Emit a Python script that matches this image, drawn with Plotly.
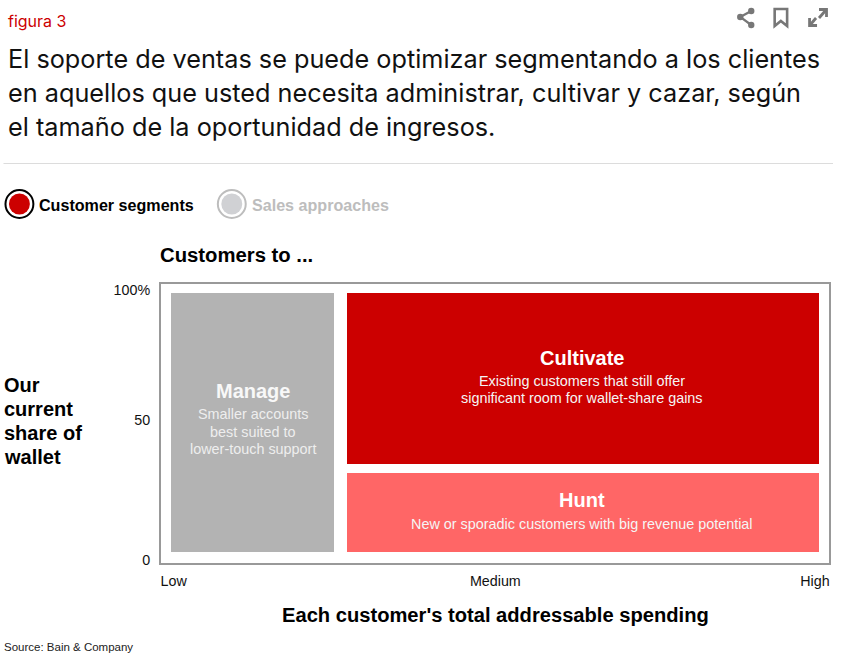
import plotly.graph_objects as go

# ---- data ----
segments = ["Manage", "Cultivate", "Hunt"]
x_start = [1.5, 27.8, 27.8]
x_end = [25.95, 98.5, 98.5]
y_start = [3.9, 35.5, 3.9]
y_end = [96.8, 96.8, 32.3]
segment_colors = ["#b3b3b3", "#cc0000", "#ff6666"]
y_tick_text = ["0", "50", "100%"]
y_tick_at = [1.1, 51.3, 97.8]
x_tick_text = ["Low", "Medium", "High"]
x_tick_at = [1.9, 50.05, 97.9]
title_lines = [
    "El soporte de ventas se puede optimizar segmentando a los clientes",
    "en aquellos que usted necesita administrar, cultivar y cazar, según",
    "el tamaño de la oportunidad de ingresos.",
]

W, H = 843, 669
L, R, T, B = 161, 831, 284, 563
SANS = "Arial"
HEAD = "Inter"


def X(p):
    return (p - L) / (R - L)


def Y(p):
    return (B - p) / (B - T)


fig = go.Figure()
fig.add_trace(go.Bar(
    x=[(a + b) / 2 for a, b in zip(x_start, x_end)],
    width=[b - a for a, b in zip(x_start, x_end)],
    base=y_start,
    y=[b - a for a, b in zip(y_start, y_end)],
    marker=dict(color=segment_colors, line=dict(width=0)),
    hovertext=segments,
    hoverinfo="text",
    showlegend=False,
))

ann = []


def text(px, py, s, size, color="#000", anchor="left", font=SANS):
    ann.append(dict(x=X(px), y=Y(py), xref="paper", yref="paper", text=s,
                    showarrow=False, xanchor=anchor, yanchor="middle",
                    font=dict(family=font, size=size, color=color),
                    borderpad=0, borderwidth=0))


text(8, 21, "figura 3", 16, "#cc0000", font=HEAD)
for py, s in zip([59, 93, 127], title_lines):
    text(8, py, s, 25.25, "#111", font=HEAD)
text(39, 205, "<b>Customer segments</b>", 16.1)
text(252, 205, "<b>Sales approaches</b>", 16.1, "#bdbdbd")
text(160, 254.5, "<b>Customers to ...</b>", 20.3)
for py, s in zip([385, 409, 433, 457], ["Our", "current", "share of", "wallet"]):
    text(4, py, f"<b>{s}</b>", 20)
text(496, 615, "<b>Each customer's total addressable spending</b>", 20.15, anchor="center")
text(4, 647, "Source: Bain &amp; Company", 11.5, "#222")

text(253, 391, "<b>Manage</b>", 20, "#f8f8f8", "center")
for py, s in zip([414, 432, 449], ["Smaller accounts", "best suited to", "lower-touch support"]):
    text(253, py, s, 14.4, "#eeeeee", "center")
text(583, 358, "<b>Cultivate</b>", 20, "#fff", "center")
for py, s in zip([381, 398], ["Existing customers that still offer", "significant room for wallet-share gains"]):
    text(583, py, s, 14.4, "#f5f5f5", "center")
text(583, 500, "<b>Hunt</b>", 20, "#fff", "center")
text(583, 524, "New or sporadic customers with big revenue potential", 14.4, "#f5f5f5", "center")

shapes = []


def circle(cx, cy, r, fill, line="rgba(0,0,0,0)", lw=0):
    shapes.append(dict(type="circle", xref="paper", yref="paper",
                       x0=X(cx - r), x1=X(cx + r), y0=Y(cy + r), y1=Y(cy - r),
                       fillcolor=fill, line=dict(color=line, width=lw)))


def path(points, fill=None, line="#777", lw=2, close=False):
    d = "M " + " L ".join(f"{X(a):.5f},{Y(b):.5f}" for a, b in points) + (" Z" if close else "")
    shapes.append(dict(type="path", xref="paper", yref="paper", path=d,
                       fillcolor=fill, line=dict(color=line, width=lw)))


path([(3, 163.5), (835, 163.5)], line="#dcdcdc", lw=1)
circle(19, 204, 14, "#fff", "#000", 2)
circle(19, 204, 10.5, "#cc0000")
circle(232, 204, 14, "#fff", "#bdbdbd", 2)
circle(232, 204, 10.5, "#d0d1d4")

# header icons
path([(753, 11), (742, 17), (753, 25)], lw=2.2)
circle(753, 11, 3.2, "#777")
circle(742, 17, 3.2, "#777")
circle(753, 25, 3.2, "#777")
path([(776.5, 9), (789, 9), (789, 26), (782.7, 21), (776.5, 26)], lw=2.6, close=True)
path([(821, 18), (828, 10)], lw=2.8)
path([(821, 9.5), (828.5, 9.5), (828.5, 17)], lw=2.8)
path([(818, 18), (812, 25)], lw=2.8)
path([(811.5, 18), (811.5, 25.5), (819, 25.5)], lw=2.8)

fig.update_layout(
    width=W, height=H, autosize=False,
    margin=dict(l=L, r=W - R, t=T, b=H - B, pad=0),
    paper_bgcolor="#fff", plot_bgcolor="#fff",
    annotations=ann, shapes=shapes, bargap=0,
    font=dict(family=SANS, size=14, color="#111"),
    xaxis=dict(range=[0, 100], tickvals=x_tick_at, ticktext=x_tick_text,
               showgrid=False, zeroline=False, showline=True, mirror=True,
               linecolor="#999", linewidth=2, ticks="", ticklabelstandoff=4,
               tickfont=dict(size=14.3)),
    yaxis=dict(range=[0, 100], tickvals=y_tick_at, ticktext=y_tick_text,
               showgrid=False, zeroline=False, showline=True, mirror=True,
               linecolor="#999", linewidth=2, ticks="", ticklabelstandoff=6,
               tickfont=dict(size=14.3)),
)

fig.write_html("out.html", config=dict(displayModeBar=False),
               post_script="document.body.style.margin='0';document.body.style.overflow='hidden';")
